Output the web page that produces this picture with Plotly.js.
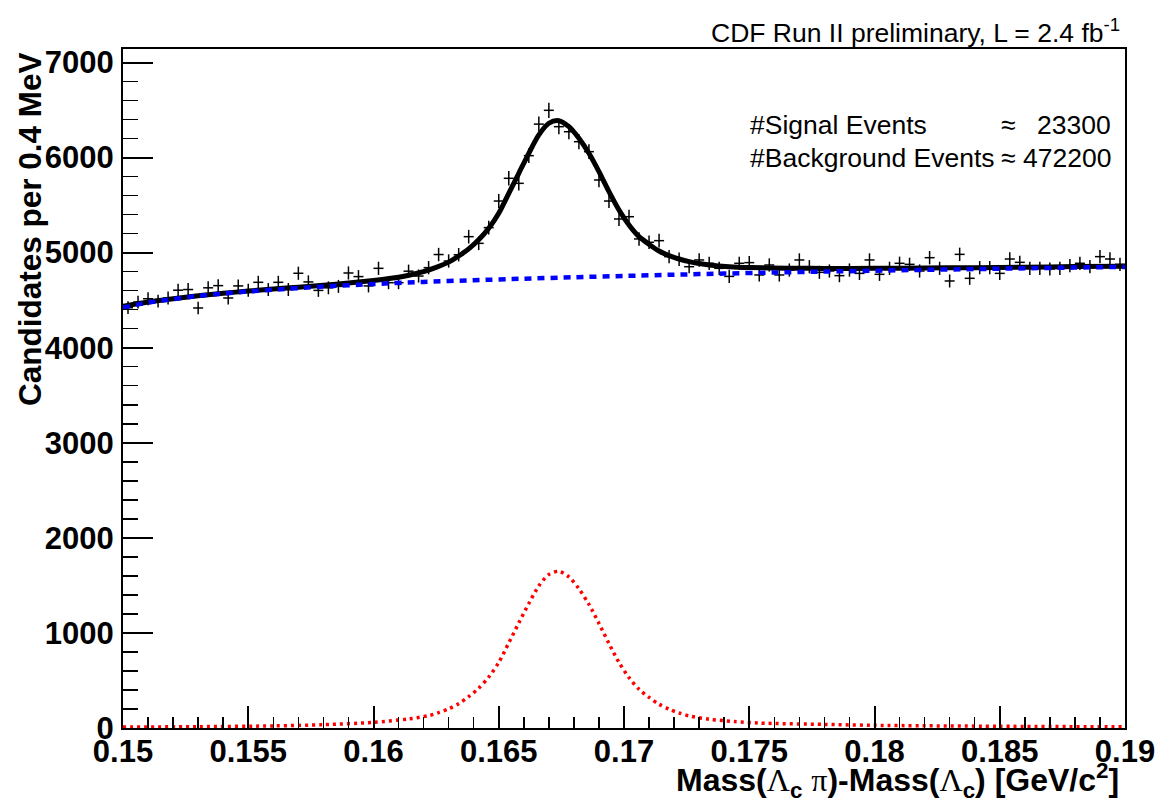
<!DOCTYPE html>
<html>
<head>
<meta charset="utf-8">
<script src="https://cdn.plot.ly/plotly-3.0.1.min.js"></script>
<style>html,body{margin:0;padding:0;background:#fff;}#chart{width:1155px;height:801px;}</style>
</head>
<body>
<div id="chart"></div>
<script>
// Histogram binning (0.4 MeV bins from 0.15 to 0.19 GeV/c^2)
const binLow = 0.15;
const binWidth = 0.0004;
// Candidates per bin
const counts = [
  4421, 4480, 4515, 4490, 4523, 4605, 4612, 4418, 4630, 4653,
  4523, 4650, 4605, 4688, 4612, 4688, 4612, 4783, 4692, 4603,
  4630, 4645, 4786, 4748, 4650, 4835, 4684, 4684, 4805, 4754,
  4842, 4980, 4912, 4978, 5168, 5098, 5263, 5543, 5782, 5729,
  6020, 6352, 6497, 6325, 6272, 6167, 6062, 5764, 5543, 5354,
  5378, 5144, 5109, 5126, 4958, 4930, 4852, 4923, 4888, 4835,
  4750, 4888, 4895, 4765, 4870, 4765, 4817, 4923, 4852, 4793,
  4807, 4758, 4817, 4782, 4923, 4772, 4835, 4888, 4877, 4807,
  4947, 4835, 4702, 4982, 4730, 4842, 4842, 4782, 4933, 4898,
  4835, 4835, 4828, 4835, 4863, 4888, 4852, 4958, 4933, 4877
];
// Total fit curve (black)
const totalX = [0.150,0.151,0.152,0.153,0.154,0.155,0.156,0.157,0.158,0.159,0.160,0.161,0.1615,0.162,0.1625,0.163,0.1634,0.1638,0.1642,0.1646,0.1650,0.1654,0.1658,0.1662,0.1666,0.1670,0.1674,0.1678,0.1682,0.1686,0.1690,0.1694,0.1698,0.1702,0.1706,0.1710,0.1714,0.1718,0.1722,0.1726,0.1730,0.1734,0.1742,0.175,0.1766,0.178,0.180,0.182,0.184,0.186,0.188,0.190];
const totalY = [4435,4480,4515,4547,4573,4596,4617,4637,4657,4680,4708,4742,4768,4800,4845,4900,4965,5040,5135,5256,5414,5624,5835,6045,6238,6361,6388,6325,6203,6045,5852,5642,5449,5291,5168,5088,5017,4968,4933,4905,4885,4870,4852,4843,4836,4834,4835,4838,4842,4847,4853,4858];
// Background fit curve (blue dashed)
const bkgX = [0.150,0.151,0.152,0.153,0.154,0.155,0.156,0.158,0.160,0.162,0.164,0.166,0.168,0.170,0.172,0.174,0.176,0.178,0.180,0.182,0.184,0.186,0.188,0.190];
const bkgY = [4422,4475,4512,4545,4570,4592,4610,4643,4670,4692,4710,4726,4741,4755,4768,4780,4791,4801,4810,4819,4827,4835,4843,4850];
// Signal fit curve (red dotted)
const sigX = [0.150,0.153,0.156,0.158,0.160,0.1614,0.1622,0.1626,0.1630,0.1634,0.1638,0.1642,0.1646,0.1650,0.1654,0.1658,0.1662,0.1666,0.1670,0.1674,0.1678,0.1682,0.1686,0.1690,0.1694,0.1698,0.1702,0.1706,0.1710,0.1714,0.1718,0.1722,0.1726,0.1734,0.1744,0.1754,0.1780,0.1800,0.1850,0.1900];
const sigY = [10,14,22,35,60,95,130,162,202,256,330,418,535,690,895,1105,1310,1495,1615,1648,1590,1465,1300,1100,888,690,530,408,322,250,198,158,127,92,68,52,38,28,18,12];
// Tick labels
const xTickVals = [0.15,0.155,0.16,0.165,0.17,0.175,0.18,0.185,0.19];
const xTickText = ["0.15","0.155","0.16","0.165","0.17","0.175","0.18","0.185","0.19"];
const yTickVals = [0,1000,2000,3000,4000,5000,6000,7000];
const yTickText = ["0","1000","2000","3000","4000","5000","6000","7000"];

const binCenters = counts.map((_, i) => binLow + binWidth * (i + 0.5));

const FONT = "Liberation Sans, Arial, Helvetica, sans-serif";
const SERIF = "Liberation Serif, Times New Roman, serif";

const traces = [
  {
    x: binCenters, y: counts, type: "scatter", mode: "markers",
    marker: {size: 1, color: "#000"},
    error_y: {type: "sqrt", color: "#000", thickness: 1.5, width: 0},
    error_x: {type: "constant", value: binWidth / 2, color: "#000", thickness: 1.5, width: 0},
    hoverinfo: "skip", showlegend: false
  },
  {
    x: totalX, y: totalY, type: "scatter", mode: "lines",
    line: {color: "#000", width: 5, shape: "spline", smoothing: 0.8},
    showlegend: false
  },
  {
    x: bkgX, y: bkgY, type: "scatter", mode: "lines",
    line: {color: "#0000ff", width: 4.5, dash: "7px,6px", shape: "spline", smoothing: 0.8},
    showlegend: false
  },
  {
    x: sigX, y: sigY, type: "scatter", mode: "lines",
    line: {color: "#ff0000", width: 3.5, dash: "3px,4px", shape: "spline", smoothing: 0.8},
    showlegend: false
  }
];

const gr = `<span style="font-family:${SERIF};font-weight:normal">`;
const layout = {
  width: 1155, height: 801,
  margin: {l: 123, r: 30, t: 49, b: 73, pad: 0},
  paper_bgcolor: "#fff", plot_bgcolor: "#fff",
  font: {family: FONT, color: "#000"},
  showlegend: false,
  xaxis: {
    range: [0.15, 0.19], tickmode: "array", tickvals: xTickVals, ticktext: xTickText,
    ticks: "inside", ticklen: 22, tickwidth: 2, tickcolor: "#000",
    minor: {dtick: 0.001, tick0: 0.15, ticks: "inside", ticklen: 11, tickwidth: 1.5, tickcolor: "#000"},
    showline: true, linecolor: "#000", linewidth: 2, mirror: true,
    showgrid: false, zeroline: false,
    tickfont: {family: FONT, size: 31, weight: "bold", color: "#000"},
    ticklabelstandoff: -5, ticklabeloverflow: "allow"
  },
  yaxis: {
    range: [0, 7142], tickmode: "array", tickvals: yTickVals, ticktext: yTickText,
    ticks: "inside", ticklen: 30, tickwidth: 2, tickcolor: "#000",
    minor: {dtick: 200, tick0: 0, ticks: "inside", ticklen: 15, tickwidth: 1.5, tickcolor: "#000"},
    showline: true, linecolor: "#000", linewidth: 2, mirror: true,
    showgrid: false, zeroline: false,
    tickfont: {family: FONT, size: 31, weight: "bold", color: "#000"},
    ticklabelstandoff: 1, ticklabeloverflow: "allow"
  },
  annotations: [
    {text: "CDF Run II preliminary, L = 2.4 fb<sup>-1</sup>", xref: "paper", yref: "paper",
     x: 0.997, y: 1.0265, xanchor: "right", yanchor: "middle", showarrow: false,
     font: {family: FONT, size: 26.5, color: "#000"}},
    {text: "#Signal Events", xref: "paper", yref: "paper", x: 0.6238, y: 0.888,
     xanchor: "left", yanchor: "middle", showarrow: false, font: {family: FONT, size: 26.5}},
    {text: "≈", xref: "paper", yref: "paper", x: 0.884, y: 0.888,
     xanchor: "center", yanchor: "middle", showarrow: false, font: {family: FONT, size: 26.5}},
    {text: "23300", xref: "paper", yref: "paper", x: 0.988, y: 0.888,
     xanchor: "right", yanchor: "middle", showarrow: false, font: {family: FONT, size: 26.5}},
    {text: "#Background Events", xref: "paper", yref: "paper", x: 0.6238, y: 0.84,
     xanchor: "left", yanchor: "middle", showarrow: false, font: {family: FONT, size: 26.5}},
    {text: "≈", xref: "paper", yref: "paper", x: 0.884, y: 0.84,
     xanchor: "center", yanchor: "middle", showarrow: false, font: {family: FONT, size: 26.5}},
    {text: "472200", xref: "paper", yref: "paper", x: 0.988, y: 0.84,
     xanchor: "right", yanchor: "middle", showarrow: false, font: {family: FONT, size: 26.5}},
    {text: "Candidates per 0.4 MeV", xref: "paper", yref: "paper", x: -0.0928, y: 0.9985,
     xanchor: "center", yanchor: "top", textangle: -90, showarrow: false,
     font: {family: FONT, size: 31.5, weight: "bold"}},
    {text: `Mass(${gr}Λ</span><sub>c</sub> ${gr}π</span>)-Mass(${gr}Λ</span><sub>c</sub>) [GeV/c<sup>2</sup>]`,
     xref: "paper", yref: "paper", x: 0.996, y: -0.077, xanchor: "right", yanchor: "middle",
     showarrow: false, font: {family: FONT, size: 32, weight: "bold"}}
  ]
};

Plotly.newPlot("chart", traces, layout, {staticPlot: true, displayModeBar: false});
</script>
</body>
</html>
